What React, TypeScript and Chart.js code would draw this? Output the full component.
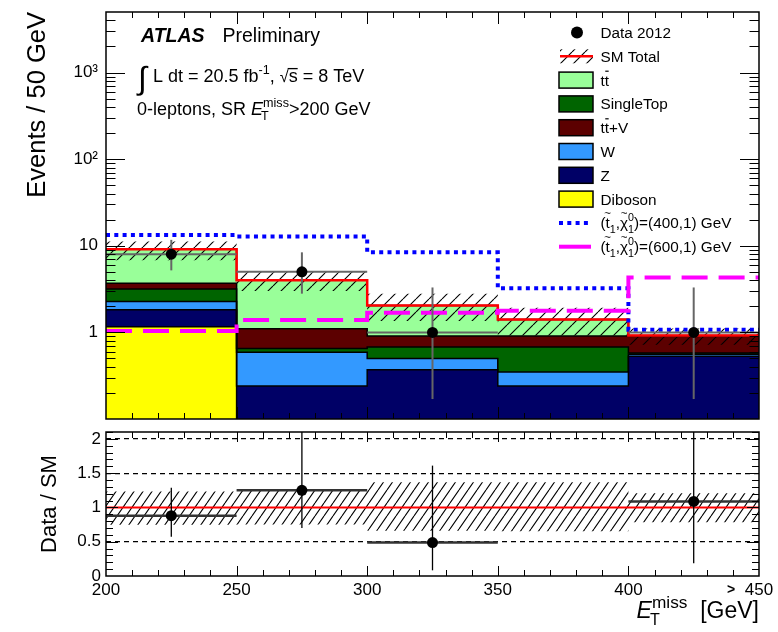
import React, { useEffect, useRef } from 'react';
import { Chart, registerables } from 'chart.js';

Chart.register(...registerables);

const FONT = '"Liberation Sans", Arial, Helvetica, sans-serif';

// E_T^miss bins in GeV (the last bin collects the overflow)
const binEdges = [200, 250, 300, 350, 400, 450];
const xTickValues = [200, 250, 300, 350, 400, 450];
const xTickLabels = ['200', '250', '300', '350', '400', '450'];

// SM background expectation per bin, stacked bottom to top
const diboson = [1.16, 0, 0, 0, 0];
const zJets = [0.66, 0.24, 0.37, 0.24, 0.53];
const wJets = [0.45, 0.35, 0.13, 0.11, 0.03];
const singleTop = [0.89, 0.06, 0.18, 0.33, 0.02];
const ttbarV = [0.54, 0.45, 0.23, 0.23, 0.33];
const ttbar = [5.4, 2.9, 1.14, 0.5, 0.01];

// total SM uncertainty band (lower / upper edge)
const smLow = [6.8, 3.0, 1.35, 0.92, 0.72];
const smHigh = [11.2, 5.0, 2.8, 1.93, 1.11];

// stop signal points (m_stop, m_LSP) = (400,1) and (600,1)
const stopMasses = [400, 600];
const stop400 = [13.3, 12.8, 8.4, 3.23, 1.07];
const stop600 = [1.04, 1.39, 1.68, 1.78, 4.3];

// observed data 2012
const dataCounts = [8, 5, 1, 0, 1];
const dataErrDown = [2.8, 2.2, 0.83, 0, 0.83];
const dataErrUp = [3.7, 3.4, 2.3, 0, 2.3];

// axis labels
const mainTickValues = [1, 10, 100, 1000];
const mainTickLabels = ['1', '10', '10²', '10³'];
const ratioTickValues = [0, 0.5, 1, 1.5, 2];
const ratioTickLabels = ['0', '0.5', '1', '1.5', '2'];
const ratioDashed = [0.5, 1.5, 2];

const LOG_FLOOR = 1e-3;

const centers = binEdges.slice(0, -1).map((e, i) => (e + binEdges[i + 1]) / 2);
const stepPoints = (vals: (number | null)[]) => [
  ...vals.map((v, i) => ({ x: binEdges[i], y: v })),
  { x: binEdges[vals.length], y: vals[vals.length - 1] },
];

const layers = [
  { values: diboson, color: '#ffff00' },
  { values: zJets, color: '#000066' },
  { values: wJets, color: '#3399ff' },
  { values: singleTop, color: '#006400' },
  { values: ttbarV, color: '#5c0000' },
  { values: ttbar, color: '#99ff99' },
];

let running = binEdges.slice(0, -1).map(() => 0);
const cumulative = layers.map((l) => {
  running = running.map((r, i) => r + l.values[i]);
  return [...running];
});
const smTotal = cumulative[cumulative.length - 1];

type Tok = { t: string; f?: string; s?: number; dy?: number; dx?: number; over?: 'bar' | 'tilde' | 'root'; noAdv?: boolean };

function tokFont(k: Tok, base: number) {
  const size = base * (k.s ?? 1);
  return { size, font: `${k.f ? k.f + ' ' : ''}${size}px ${FONT}` };
}

function richWidth(ctx: CanvasRenderingContext2D, base: number, toks: Tok[]) {
  let cx = 0;
  ctx.save();
  for (const k of toks) {
    ctx.font = tokFont(k, base).font;
    const w = ctx.measureText(k.t).width;
    if (!k.noAdv) cx = cx + (k.dx ?? 0) + w;
  }
  ctx.restore();
  return cx;
}

function drawRich(ctx: CanvasRenderingContext2D, x: number, y: number, base: number, toks: Tok[], align = 'left') {
  ctx.save();
  ctx.fillStyle = '#000';
  ctx.textAlign = 'left';
  ctx.textBaseline = 'alphabetic';
  let cx = align === 'right' ? x - richWidth(ctx, base, toks) : x;
  for (const k of toks) {
    const { size, font } = tokFont(k, base);
    ctx.font = font;
    const w = ctx.measureText(k.t).width;
    const px = cx + (k.dx ?? 0);
    const py = y + (k.dy ?? 0) * base;
    ctx.fillText(k.t, px, py);
    if (k.over === 'bar') ctx.fillRect(px + w * 0.12, py - size * 0.98, w * 0.8, Math.max(1.2, size * 0.07));
    if (k.over === 'root') ctx.fillRect(px - 1, py - size * 0.78, w + 1, 1.3);
    if (k.over === 'tilde') {
      ctx.font = `${size * 0.75}px ${FONT}`;
      const tw = ctx.measureText('~').width;
      ctx.fillText('~', px + (w - tw) / 2, py - size * 0.72);
    }
    if (!k.noAdv) cx = px + w;
  }
  ctx.restore();
}

function makeHatch(w: number, h: number, lw: number) {
  const c = document.createElement('canvas');
  c.width = w;
  c.height = h;
  const g = c.getContext('2d')!;
  g.strokeStyle = '#000';
  g.lineWidth = lw;
  g.beginPath();
  for (const off of [-w, 0, w]) {
    g.moveTo(off, h);
    g.lineTo(off + w, 0);
  }
  g.stroke();
  return g.createPattern(c, 'repeat')!;
}

function range(a: number, b: number, step: number) {
  const out: number[] = [];
  for (let v = a; v <= b + 1e-9; v += step) out.push(Math.round(v * 1000) / 1000);
  return out;
}

// axes are fixed in size so the plot frames land on the same pixels in both panels
const fixWidth = (w: number) => (s: any) => {
  s.width = w;
  s.paddingTop = 0;
  s.paddingBottom = 0;
};
const fixHeight = (h: number) => (s: any) => {
  s.height = h;
  s.paddingLeft = 0;
  s.paddingRight = 0;
};

function framePlugin(id: string, t: { xMajor: number[]; xMinor: number[]; yMajor: number[]; yMinor: number[]; xMaj: number; xMin: number; yMaj: number; yMin: number }) {
  return {
    id,
    afterDraw(chart: any) {
      const { ctx, chartArea: a, scales } = chart;
      const xs = scales.x;
      const ys = scales.y;
      ctx.save();
      ctx.strokeStyle = '#000';
      ctx.lineWidth = 1;
      ctx.beginPath();
      const xt = (vals: number[], len: number) => {
        for (const v of vals) {
          const p = Math.round(xs.getPixelForValue(v)) + 0.5;
          ctx.moveTo(p, a.bottom); ctx.lineTo(p, a.bottom - len);
          ctx.moveTo(p, a.top); ctx.lineTo(p, a.top + len);
        }
      };
      const yt = (vals: number[], len: number) => {
        for (const v of vals) {
          const p = Math.round(ys.getPixelForValue(v)) + 0.5;
          if (p < a.top || p > a.bottom) continue;
          ctx.moveTo(a.left, p); ctx.lineTo(a.left + len, p);
          ctx.moveTo(a.right, p); ctx.lineTo(a.right - len, p);
        }
      };
      xt(t.xMajor, t.xMaj);
      xt(t.xMinor, t.xMin);
      yt(t.yMajor, t.yMaj);
      yt(t.yMinor, t.yMin);
      ctx.stroke();
      ctx.lineWidth = 1.5;
      ctx.strokeRect(a.left, a.top, a.right - a.left, a.bottom - a.top);
      ctx.restore();
    },
  };
}

type Bar = { x0: number; x1: number; xc: number; y: number; lo: number; hi: number } | null;

function errorBarPlugin(id: string, dsIndex: number, bars: Bar[], hStyle: [string, number], vStyle: [string, number]) {
  return {
    id,
    beforeDatasetDraw(chart: any, args: any) {
      if (args.index !== dsIndex) return;
      const { ctx, chartArea: a, scales } = chart;
      const xs = scales.x;
      const ys = scales.y;
      ctx.save();
      ctx.beginPath();
      ctx.rect(a.left, a.top, a.right - a.left, a.bottom - a.top);
      ctx.clip();
      for (const b of bars) {
        if (!b) continue;
        const py = ys.getPixelForValue(b.y);
        ctx.strokeStyle = hStyle[0];
        ctx.lineWidth = hStyle[1];
        ctx.beginPath();
        ctx.moveTo(xs.getPixelForValue(b.x0), py);
        ctx.lineTo(xs.getPixelForValue(b.x1), py);
        ctx.stroke();
        const px = xs.getPixelForValue(b.xc);
        ctx.strokeStyle = vStyle[0];
        ctx.lineWidth = vStyle[1];
        ctx.beginPath();
        ctx.moveTo(px, ys.getPixelForValue(b.lo));
        ctx.lineTo(px, ys.getPixelForValue(b.hi));
        ctx.stroke();
      }
      ctx.restore();
    },
  };
}

const sigLabel = (m: number): Tok[] => [
  { t: '(' },
  { t: 't', over: 'tilde' },
  { t: '1', s: 0.7, dy: 0.3 },
  { t: ',' },
  { t: 'χ', over: 'tilde' },
  { t: '1', s: 0.7, dy: 0.3, noAdv: true },
  { t: '0', s: 0.7, dy: -0.5 },
  { t: `)=(${m},1) GeV` },
];

export default function App() {
  const mainRef = useRef<HTMLCanvasElement>(null);
  const ratioRef = useRef<HTMLCanvasElement>(null);

  useEffect(() => {
    const hatchMain = makeHatch(13, 13, 1.1);
    const hatchRatio = makeHatch(9, 13, 1.1);

    const layerSets = cumulative.map((cum, i) => ({
      data: stepPoints(cum.map((v) => Math.max(v, LOG_FLOOR))),
      stepped: 'before',
      borderColor: '#000',
      borderWidth: 1.5,
      backgroundColor: layers[i].color,
      fill: i === 0 ? 'start' : '-1',
      pointRadius: 0,
    }));

    const mainSets: any[] = [
      ...layerSets,
      { data: stepPoints(smLow), stepped: 'before', borderWidth: 0, borderColor: 'rgba(0,0,0,0)', fill: false, pointRadius: 0 },
      { data: stepPoints(smHigh), stepped: 'before', borderWidth: 0, borderColor: 'rgba(0,0,0,0)', backgroundColor: hatchMain, fill: '-1', pointRadius: 0 },
      { data: stepPoints(smTotal), stepped: 'before', borderColor: '#ff0000', borderWidth: 2.5, fill: false, pointRadius: 0 },
      { data: stepPoints(stop400), stepped: 'before', borderColor: '#0000ff', borderWidth: 4, borderDash: [4, 4.3], borderCapStyle: 'butt', fill: false, pointRadius: 0 },
      { data: stepPoints(stop600), stepped: 'before', borderColor: '#ff00ff', borderWidth: 4, borderDash: [26, 11], borderCapStyle: 'butt', fill: false, pointRadius: 0 },
      {
        data: centers.map((c, i) => ({ x: c, y: dataCounts[i] > 0 ? dataCounts[i] : null })),
        showLine: false, pointRadius: 5.5, pointBackgroundColor: '#000', pointBorderWidth: 0, fill: false,
      },
    ];
    mainSets.forEach((d, i) => { d.type = 'line'; d.order = 100 - i; });
    const dataIndex = mainSets.length - 1;

    const mainBars: Bar[] = centers.map((c, i) => dataCounts[i] > 0
      ? { x0: binEdges[i], x1: binEdges[i + 1], xc: c, y: dataCounts[i], lo: dataCounts[i] - dataErrDown[i], hi: dataCounts[i] + dataErrUp[i] }
      : null);

    const logMinor: number[] = [];
    for (const d of [0.1, 1, 10, 100, 1000]) for (let k = 2; k <= 9; k++) if (d * k < 5000) logMinor.push(d * k);
    const xMajor = range(250, 400, 50);
    const xMinor = range(200, 450, 10).filter((v) => v % 50 !== 0);

    const legendRows: { kind: string; color?: string; toks: Tok[] }[] = [
      { kind: 'data', toks: [{ t: 'Data 2012' }] },
      { kind: 'sm', toks: [{ t: 'SM Total' }] },
      { kind: 'box', color: layers[5].color, toks: [{ t: 't' }, { t: 't', over: 'bar' }] },
      { kind: 'box', color: layers[3].color, toks: [{ t: 'SingleTop' }] },
      { kind: 'box', color: layers[4].color, toks: [{ t: 't' }, { t: 't', over: 'bar' }, { t: '+V' }] },
      { kind: 'box', color: layers[2].color, toks: [{ t: 'W' }] },
      { kind: 'box', color: layers[1].color, toks: [{ t: 'Z' }] },
      { kind: 'box', color: layers[0].color, toks: [{ t: 'Diboson' }] },
      { kind: 'dot', color: '#0000ff', toks: sigLabel(stopMasses[0]) },
      { kind: 'dash', color: '#ff00ff', toks: sigLabel(stopMasses[1]) },
    ];

    const textPlugin = {
      id: 'mainText',
      afterDraw(chart: any) {
        const ctx: CanvasRenderingContext2D = chart.ctx;
        ctx.save();
        drawRich(ctx, 141, 42, 19.5, [{ t: 'ATLAS', f: 'italic bold' }]);
        drawRich(ctx, 222.5, 42, 19.5, [{ t: 'Preliminary' }]);
        ctx.font = `32px ${FONT}`;
        ctx.fillStyle = '#000';
        ctx.fillText('∫', 138, 89);
        drawRich(ctx, 153, 82, 18, [
          { t: 'L dt = 20.5 fb' }, { t: '-1', s: 0.7, dy: -0.45 }, { t: ', ' },
          { t: '√', s: 0.9 }, { t: 's', over: 'root' }, { t: ' = 8 TeV' },
        ]);
        drawRich(ctx, 137, 115, 18, [
          { t: '0-leptons, SR ' }, { t: 'E', f: 'italic' },
          { t: 'T', s: 0.7, dy: 0.3, dx: -2, noAdv: true }, { t: 'miss', s: 0.7, dy: -0.45 },
          { t: '>200 GeV' },
        ]);

        const y0 = 32.5;
        const dy = 23.8;
        legendRows.forEach((r, i) => {
          const y = y0 + i * dy;
          ctx.save();
          if (r.kind === 'data') {
            ctx.fillStyle = '#000';
            ctx.beginPath();
            ctx.arc(577, y, 6, 0, Math.PI * 2);
            ctx.fill();
          } else if (r.kind === 'sm') {
            ctx.fillStyle = hatchMain;
            ctx.fillRect(560, y - 7, 33, 14);
            ctx.strokeStyle = '#ff0000';
            ctx.lineWidth = 2.5;
            ctx.beginPath(); ctx.moveTo(560, y); ctx.lineTo(593, y); ctx.stroke();
          } else if (r.kind === 'box') {
            ctx.fillStyle = r.color!;
            ctx.fillRect(559, y - 8, 34, 16);
            ctx.strokeStyle = '#000';
            ctx.lineWidth = 1.5;
            ctx.strokeRect(559, y - 8, 34, 16);
          } else {
            ctx.strokeStyle = r.color!;
            ctx.lineWidth = 4;
            ctx.lineCap = 'butt';
            if (r.kind === 'dot') ctx.setLineDash([4, 4.3]);
            ctx.beginPath(); ctx.moveTo(559, y); ctx.lineTo(591, y); ctx.stroke();
          }
          ctx.restore();
          drawRich(ctx, 600.5, y + 5.5, 15.3, r.toks);
        });
        ctx.restore();
      },
    };

    const mainChart = new Chart(mainRef.current!, {
      type: 'line',
      data: { datasets: mainSets },
      options: {
        responsive: false,
        animation: false,
        events: [],
        layout: { padding: { left: 0, right: 19, top: 12, bottom: 7 } },
        plugins: { legend: { display: false }, tooltip: { enabled: false }, filler: { drawTime: 'beforeDatasetsDraw' } },
        scales: {
          x: { type: 'linear', min: 200, max: 450, display: false },
          y: {
            type: 'logarithmic', min: 0.1, max: 5000, position: 'left',
            afterFit: fixWidth(106),
            afterBuildTicks: (s: any) => { s.ticks = mainTickValues.map((v) => ({ value: v })); },
            grid: { display: false, drawTicks: false },
            border: { display: false },
            ticks: {
              autoSkip: false, padding: 8, color: '#000', font: { size: 17, family: FONT },
              callback: (_v: any, i: number) => mainTickLabels[i],
            },
            title: {
              display: true, text: 'Events / 50 GeV', align: 'end', color: '#000',
              font: { size: 25.5, family: FONT }, padding: { top: 23, bottom: 0 },
            },
          },
        },
      } as any,
      plugins: [
        errorBarPlugin('mainErr', dataIndex, mainBars, ['#666', 2], ['#666', 2]),
        framePlugin('mainFrame', { xMajor, xMinor, yMajor: mainTickValues, yMinor: logMinor, xMaj: 12, xMin: 6, yMaj: 19, yMin: 9.5 }),
        textPlugin,
      ],
    });

    // ratio panel: data / SM
    const ones = smTotal.map(() => 1);
    const ratio = dataCounts.map((d, i) => (d > 0 ? d / smTotal[i] : null));
    const ratioSets: any[] = [
      { data: stepPoints(smLow.map((v, i) => v / smTotal[i])), stepped: 'before', borderWidth: 0, borderColor: 'rgba(0,0,0,0)', fill: false, pointRadius: 0 },
      { data: stepPoints(smHigh.map((v, i) => v / smTotal[i])), stepped: 'before', borderWidth: 0, borderColor: 'rgba(0,0,0,0)', backgroundColor: hatchRatio, fill: '-1', pointRadius: 0 },
      { data: stepPoints(ones), stepped: 'before', borderColor: '#ff0000', borderWidth: 2, fill: false, pointRadius: 0 },
      { data: centers.map((c, i) => ({ x: c, y: ratio[i] })), showLine: false, pointRadius: 5.5, pointBackgroundColor: '#000', pointBorderWidth: 0, fill: false },
    ];
    ratioSets.forEach((d, i) => { d.type = 'line'; d.order = 100 - i; });
    const ratioBars: Bar[] = centers.map((c, i) => dataCounts[i] > 0
      ? { x0: binEdges[i], x1: binEdges[i + 1], xc: c, y: ratio[i]!, lo: (dataCounts[i] - dataErrDown[i]) / smTotal[i], hi: (dataCounts[i] + dataErrUp[i]) / smTotal[i] }
      : null);

    const ratioText = {
      id: 'ratioText',
      afterDraw(chart: any) {
        const ctx: CanvasRenderingContext2D = chart.ctx;
        drawRich(ctx, 727, 169, 14, [{ t: '>', f: 'bold' }]);
        drawRich(ctx, 759, 193, 23, [
          { t: 'E', f: 'italic' }, { t: 'T', s: 0.7, dy: 0.3, dx: -2, noAdv: true },
          { t: 'miss', s: 0.75, dy: -0.45 }, { t: '  [GeV]' },
        ], 'right');
      },
    };

    const ratioChart = new Chart(ratioRef.current!, {
      type: 'line',
      data: { datasets: ratioSets },
      options: {
        responsive: false,
        animation: false,
        events: [],
        layout: { padding: { left: 0, right: 19, top: 7, bottom: 0 } },
        plugins: { legend: { display: false }, tooltip: { enabled: false }, filler: { drawTime: 'beforeDatasetsDraw' } },
        scales: {
          x: {
            type: 'linear', min: 200, max: 450, position: 'bottom',
            afterFit: fixHeight(56),
            afterBuildTicks: (s: any) => { s.ticks = xTickValues.map((v) => ({ value: v })); },
            grid: { display: false, drawTicks: false },
            border: { display: false },
            ticks: {
              autoSkip: false, maxRotation: 0, padding: 4, color: '#000', font: { size: 17, family: FONT },
              callback: (_v: any, i: number) => xTickLabels[i],
            },
          },
          y: {
            type: 'linear', min: 0, max: 2.1, position: 'left',
            afterFit: fixWidth(106),
            afterBuildTicks: (s: any) => { s.ticks = ratioTickValues.map((v) => ({ value: v })); },
            grid: {
              drawTicks: false, lineWidth: 1.2,
              color: (c: any) => (c.tick && ratioDashed.includes(c.tick.value) ? '#000' : 'rgba(0,0,0,0)'),
            },
            border: { display: false, dash: [5, 4] },
            ticks: {
              autoSkip: false, padding: 5, color: '#000', font: { size: 17, family: FONT },
              callback: (_v: any, i: number) => ratioTickLabels[i],
            },
            title: {
              display: true, text: 'Data / SM', align: 'center', color: '#000',
              font: { size: 22, family: FONT }, padding: { top: 37, bottom: 0 },
            },
          },
        },
      } as any,
      plugins: [
        errorBarPlugin('ratioErr', ratioSets.length - 1, ratioBars, ['#333', 2.5], ['#000', 1.3]),
        framePlugin('ratioFrame', { xMajor, xMinor, yMajor: [0.5, 1, 1.5, 2], yMinor: range(0.1, 2.1, 0.1).filter((v) => Math.abs(v * 2 - Math.round(v * 2)) > 1e-6), xMaj: 10, xMin: 6, yMaj: 12, yMin: 7 }),
        ratioText,
      ],
    });

    return () => {
      mainChart.destroy();
      ratioChart.destroy();
    };
  }, []);

  return (
    <div style={{ position: 'absolute', left: 0, top: 0, width: 778, height: 632, background: '#fff' }}>
      <canvas ref={mainRef} width={778} height={426} style={{ position: 'absolute', left: 0, top: 0 }} />
      <canvas ref={ratioRef} width={778} height={207} style={{ position: 'absolute', left: 0, top: 425 }} />
    </div>
  );
}
